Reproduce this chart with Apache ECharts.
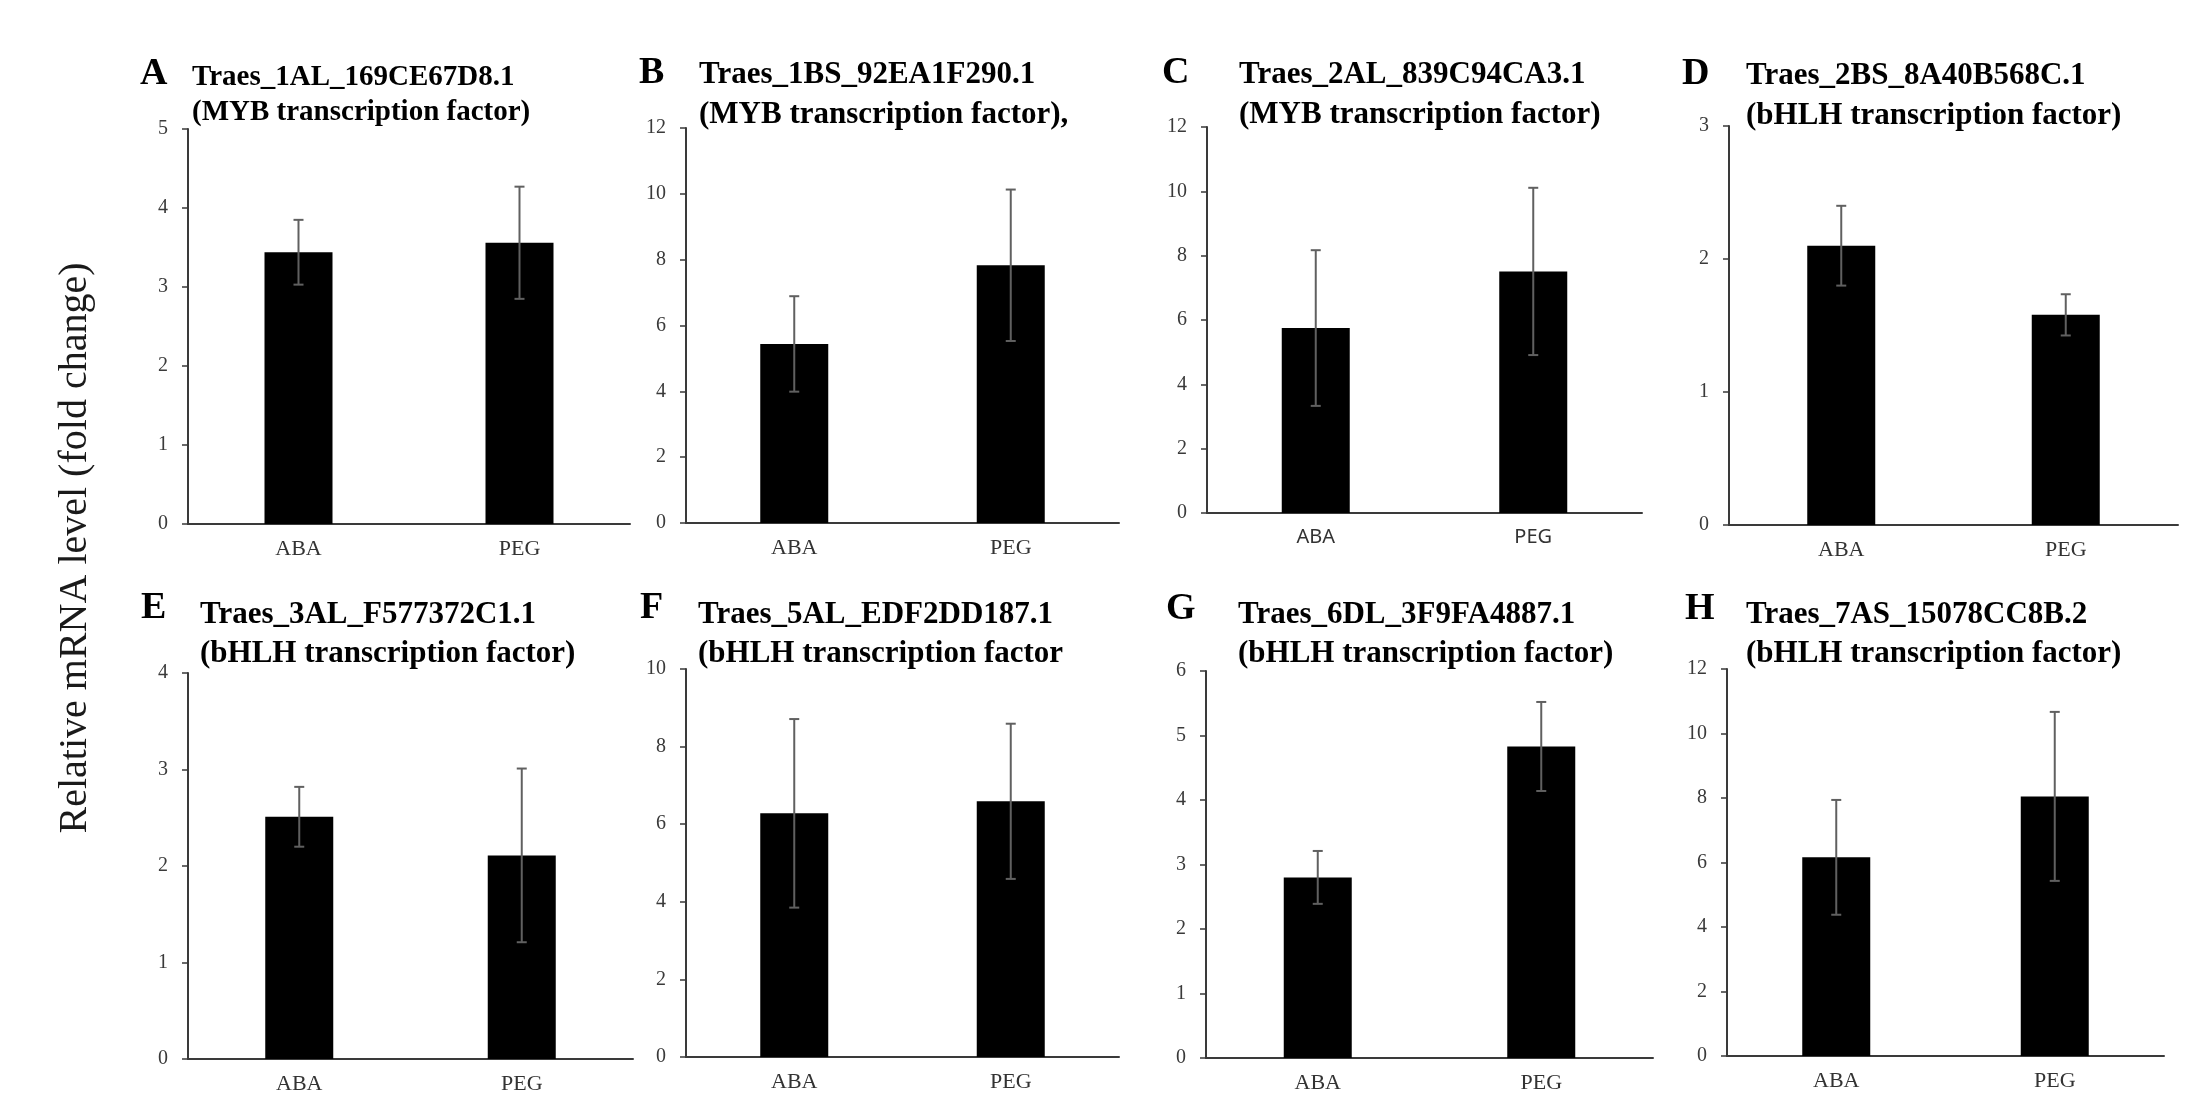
<!DOCTYPE html>
<html>
<head>
<meta charset="utf-8">
<script src="https://cdn.jsdelivr.net/npm/echarts@6/dist/echarts.min.js"></script>
<style>
  html, body { margin: 0; padding: 0; background: #fff; }
  #chart { width: 2211px; height: 1104px; }
</style>
</head>
<body>
<div id="chart"></div>
<script>
// ---------------- DATA ----------------
const categories = ['ABA', 'PEG'];
const panelLetters = ['A', 'B', 'C', 'D', 'E', 'F', 'G', 'H'];
const geneIds = [
  'Traes_1AL_169CE67D8.1', 'Traes_1BS_92EA1F290.1', 'Traes_2AL_839C94CA3.1', 'Traes_2BS_8A40B568C.1',
  'Traes_3AL_F577372C1.1', 'Traes_5AL_EDF2DD187.1', 'Traes_6DL_3F9FA4887.1', 'Traes_7AS_15078CC8B.2'
];
const geneFamilies = [
  '(MYB transcription factor)', '(MYB transcription factor),', '(MYB transcription factor)', '(bHLH transcription factor)',
  '(bHLH transcription factor)', '(bHLH transcription factor', '(bHLH transcription factor)', '(bHLH transcription factor)'
];
const yMax = [5, 12, 12, 3, 4, 10, 6, 12];
const yStep = [1, 2, 2, 1, 1, 2, 1, 2];
const abaMean = [3.44, 5.44, 5.75, 2.10, 2.51, 6.28, 2.80, 6.16];
const pegMean = [3.56, 7.83, 7.51, 1.58, 2.11, 6.59, 4.83, 8.05];
const abaErr = [0.41, 1.45, 2.42, 0.30, 0.31, 2.43, 0.41, 1.78];
const pegErr = [0.71, 2.30, 2.60, 0.155, 0.90, 2.00, 0.69, 2.62];
const yAxisTitle = 'Relative mRNA level (fold change)';

// ---------------- LAYOUT (positions / styles) ----------------
const gridBox = [
  { left: 188, top: 129, width: 442, height: 395 },
  { left: 686, top: 128, width: 433, height: 395 },
  { left: 1207, top: 127, width: 435, height: 386 },
  { left: 1729, top: 126, width: 449, height: 399 },
  { left: 188, top: 673, width: 445, height: 386 },
  { left: 686, top: 669, width: 433, height: 388 },
  { left: 1206, top: 671, width: 447, height: 387 },
  { left: 1727, top: 669, width: 437, height: 387 }
];
const letterPos = [[140, 55], [639, 54], [1162, 54], [1682, 55], [141, 589], [640, 589], [1166, 590], [1685, 590]];
const titlePos = [[192, 60.5], [699, 54.5], [1239, 54.5], [1746, 55.5], [200, 595], [698, 595], [1238, 595], [1746, 595]];
const titleFont = [29, 31, 31, 31, 31, 31, 31, 31];
const titleLH = [35, 40, 40, 40, 39.5, 39.5, 39.5, 39.5];
const catFont = ['Liberation Serif', 'Liberation Serif', 'Noto Sans', 'Liberation Serif',
                 'Liberation Serif', 'Liberation Serif', 'Liberation Serif', 'Liberation Serif'];

const SERIF = 'Liberation Serif';
const AXIS_COLOR = '#3a3a3a';
const ERR_COLOR = '#606060';

const chart = echarts.init(document.getElementById('chart'), null, { renderer: 'canvas' });

const grids = [], xAxes = [], yAxes = [], series = [], titles = [];

for (let i = 0; i < 8; i++) {
  grids.push(Object.assign({ containLabel: false }, gridBox[i]));
  xAxes.push({
    type: 'category', gridIndex: i, data: categories,
    axisLine: { show: true, lineStyle: { color: AXIS_COLOR, width: 2 } },
    axisTick: { show: false },
    axisLabel: { color: '#333', fontFamily: catFont[i], fontSize: catFont[i] === 'Noto Sans' ? 20 : 22, margin: 14 },
    splitLine: { show: false }
  });
  yAxes.push({
    type: 'value', gridIndex: i, min: 0, max: yMax[i], interval: yStep[i],
    axisLine: { show: true, lineStyle: { color: AXIS_COLOR, width: 2 } },
    axisTick: { show: true, inside: false, length: 6, lineStyle: { color: AXIS_COLOR, width: 1.5 } },
    axisLabel: { color: '#3a3a3a', fontFamily: SERIF, fontSize: 20, margin: 20 },
    splitLine: { show: false }
  });
  series.push({
    type: 'bar', xAxisIndex: i, yAxisIndex: i,
    data: [abaMean[i], pegMean[i]],
    barWidth: 68,
    itemStyle: { color: '#000' },
    silent: true
  });
  series.push({
    type: 'custom', xAxisIndex: i, yAxisIndex: i,
    data: [
      [0, abaMean[i] - abaErr[i], abaMean[i] + abaErr[i]],
      [1, pegMean[i] - pegErr[i], pegMean[i] + pegErr[i]]
    ],
    z: 10,
    renderItem: function (params, api) {
      const lo = api.coord([api.value(0), api.value(1)]);
      const hi = api.coord([api.value(0), api.value(2)]);
      const half = 5;
      const style = { stroke: ERR_COLOR, lineWidth: 2 };
      return {
        type: 'group',
        children: [
          { type: 'line', shape: { x1: lo[0], y1: lo[1], x2: hi[0], y2: hi[1] }, style: style },
          { type: 'line', shape: { x1: lo[0] - half, y1: lo[1], x2: lo[0] + half, y2: lo[1] }, style: style },
          { type: 'line', shape: { x1: hi[0] - half, y1: hi[1], x2: hi[0] + half, y2: hi[1] }, style: style }
        ]
      };
    },
    silent: true
  });
  titles.push({
    text: panelLetters[i], left: letterPos[i][0], top: letterPos[i][1], padding: 0,
    textStyle: { fontFamily: SERIF, fontWeight: 'bold', fontSize: 38, lineHeight: 38, color: '#000' }
  });
  titles.push({
    text: geneIds[i] + '\n' + geneFamilies[i], left: titlePos[i][0], top: titlePos[i][1], padding: 0,
    textStyle: { fontFamily: SERIF, fontWeight: 'bold', fontSize: titleFont[i], lineHeight: titleLH[i], color: '#000' }
  });
}

chart.setOption({
  backgroundColor: '#fff',
  animation: false,
  title: titles,
  grid: grids,
  xAxis: xAxes,
  yAxis: yAxes,
  series: series,
  graphic: [{
    type: 'text', x: 75, y: 548, rotation: Math.PI / 2,
    style: {
      text: yAxisTitle, fill: '#1a1a1a',
      font: '40px "Liberation Serif"', textAlign: 'center', textVerticalAlign: 'middle'
    }
  }]
});
</script>
</body>
</html>
